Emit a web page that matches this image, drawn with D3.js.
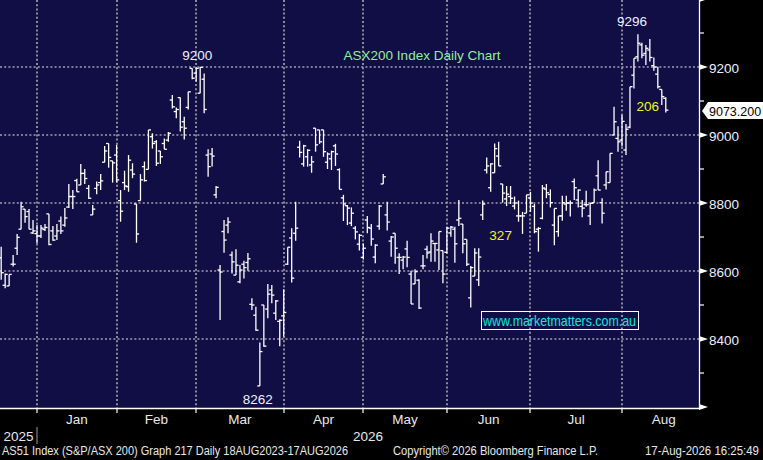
<!DOCTYPE html>
<html><head><meta charset="utf-8">
<script src="https://cdn.jsdelivr.net/npm/d3@7/dist/d3.min.js"></script>
<style>html,body{margin:0;padding:0;background:#000;overflow:hidden}svg{display:block}</style>
</head><body><svg id="c" width="763" height="460"></svg>
<script>
// ---- data (ASX200 daily OHLC, mid-Dec 2025 .. 17-Aug-2026) ----
const opens = [
8639,8558,8556,8620,8667,8723,8782,8775,8712,
8710,8703,8722,8768,8718,8703,8747,8735,8788,8819,8866,8853,8887,8843,8765,8843,8860,8920,8975,8924,
8941,8807,8860,8848,8897,8797,8807,8907,8899,8995,8980,8953,8975,8985,9103,9069,9110,9039,9081,9196,
9182,9123,9164,8941,8944,8824,8603,8716,8735,8647,8588,8568,8620,8625,8502,8470,8262,8500,8488,8544,8476,8452,
8468,8620,8697,8711,8964,8915,8936,8912,9020,9015,9015,8920,8930,8968,8898,8815,8792,8741,8726,8679,
8640,8750,8726,8641,8732,8856,8765,8688,8711,8640,8632,8665,8591,8562,8573,8615,8664,8656,8681,8662,8660,
8655,8712,8723,8750,8738,8693,8521,8585,8574,8765,8897,8845,8889,8938,8856,8812,8819,8791,8762,8762,8770,
8815,8790,8723,8755,8841,8825,8735,8716,8762,8797,8800,8863,8809,8790,8795,8762,8801,8880,8801,8853,8860,9000,8990,
8985,8956,9023,9176,9230,9265,9240,9250,9204,9179,9134,9108];
const highs = [
8671,8593,8590,8647,8709,8804,8782,8782,8750,
8735,8735,8738,8768,8732,8738,8760,8785,8856,8838,8871,8915,8900,8853,8794,8863,8885,8968,8975,8924,
8971,8838,8895,8941,8917,8797,8885,8922,9015,9005,8985,8953,8990,9009,9118,9081,9110,9054,9127,9196,
9199,9200,9181,8958,8962,8850,8618,8750,8758,8657,8664,8618,8630,8653,8520,8495,8390,8500,8562,8559,8515,8458,
8546,8670,8726,8804,8983,8971,8958,8938,9020,9015,9015,8949,8954,8974,8902,8824,8794,8787,8732,8709,
8681,8762,8738,8679,8794,8885,8804,8703,8711,8652,8644,8689,8601,8605,8576,8647,8674,8711,8681,8716,8660,
8730,8732,8730,8809,8738,8693,8615,8667,8667,8807,8934,8917,8975,8980,8856,8850,8850,8819,8807,8774,8824,
8833,8797,8729,8853,8856,8840,8784,8762,8821,8821,8807,8872,8840,8809,8836,8801,8843,8926,8814,8892,8946,9083,9026,
9059,9032,9142,9226,9296,9271,9265,9282,9228,9201,9134,9111];
const lows = [
8574,8549,8556,8613,8647,8723,8742,8723,8709,
8681,8697,8718,8676,8689,8691,8709,8730,8785,8782,8833,8853,8856,8812,8765,8826,8838,8920,8904,8860,
8860,8745,8838,8833,8873,8683,8807,8863,8899,8960,8909,8915,8958,8980,9078,9049,9010,8987,9075,9164,
9157,9123,9064,8877,8907,8814,8456,8654,8711,8593,8588,8564,8578,8601,8485,8424,8262,8377,8461,8505,8456,8379,
8407,8618,8566,8689,8934,8907,8907,8889,8951,8974,8936,8900,8897,8909,8840,8747,8735,8732,8693,8660,
8634,8711,8674,8623,8721,8856,8719,8642,8621,8591,8605,8611,8503,8562,8488,8605,8637,8627,8627,8603,8564,
8652,8701,8624,8732,8652,8615,8493,8585,8556,8750,8887,8833,8889,8909,8801,8791,8797,8781,8745,8709,8770,
8774,8711,8657,8752,8814,8787,8676,8701,8748,8777,8760,8809,8787,8758,8789,8735,8801,8838,8740,8840,8860,9000,8951,
8966,8941,9020,9137,9216,9226,9206,9216,9189,9137,9088,9066];
const closes = [
8595,8590,8590,8620,8699,8789,8760,8723,8718,
8703,8726,8728,8678,8691,8718,8718,8756,8819,8819,8833,8887,8872,8814,8782,8853,8865,8953,8934,8918,
8868,8776,8850,8926,8885,8709,8868,8866,9015,8975,8917,8936,8958,9005,9083,9075,9023,9020,9127,9167,
9196,9199,9075,8907,8938,8846,8597,8691,8744,8627,8617,8603,8610,8636,8500,8426,8363,8379,8532,8529,8512,8455,
8478,8670,8579,8726,8949,8968,8955,8921,8971,8980,8951,8944,8951,8944,8840,8797,8785,8770,8715,8705,
8667,8728,8694,8676,8791,8877,8744,8700,8667,8640,8641,8640,8503,8598,8491,8615,8653,8688,8681,8716,8591,
8726,8729,8680,8755,8680,8620,8610,8653,8641,8797,8909,8915,8960,8909,8829,8826,8814,8800,8762,8762,8824,
8800,8716,8725,8844,8830,8801,8784,8762,8801,8800,8800,8845,8838,8785,8795,8799,8838,8838,8770,8892,8946,9039,8980,
9040,9017,9142,9226,9270,9235,9255,9228,9200,9142,9113,9073.2];

const monthLabels = ["Jan","Feb","Mar","Apr","May","Jun","Jul","Aug"];
const monthStartIdx = [9,29,49,71,91,112,133,156,177];
const yearLabels = ["2025","2026"];
const priceTicks = [8200,8400,8600,8800,9000,9200,9400];
const priceLabels = [8400,8600,8800,9000,9200];
const minorTicks = [8300,8500,8700,8900,9100,9300];

// ---- layout ----
const W = 763, H = 460, plotR = 699, plotB = 408;
const svg = d3.select("#c");
const x = d3.scaleLinear().domain([9,156]).range([37,622]);
const y = d3.scaleLinear().domain([8400,9200]).range([339,67]);
const FONT = "'Liberation Sans', Arial, sans-serif";

svg.append("rect").attr("width",W).attr("height",H).attr("fill","#000");
svg.append("rect").attr("x",0).attr("y",0).attr("width",plotR).attr("height",plotB).attr("fill","#100e45");

// grid
const grid = svg.append("g").attr("stroke","#a0a0a8").attr("stroke-width",1.7).attr("stroke-dasharray","2,2.2");
grid.selectAll("line.h").data(priceLabels).join("line")
  .attr("x1",0).attr("x2",plotR).attr("y1",d=>Math.round(y(d))).attr("y2",d=>Math.round(y(d)));
grid.selectAll("line.v").data(monthStartIdx.slice(0,8)).join("line")
  .attr("x1",d=>Math.round(x(d))).attr("x2",d=>Math.round(x(d))).attr("y1",0).attr("y2",plotB);

// OHLC bars
const idx = d3.range(closes.length);
const bars = svg.append("g").attr("stroke","#ffffff").attr("stroke-width",1.3).attr("fill","none");
bars.selectAll("line.hl").data(idx).join("line")
  .attr("x1",i=>x(i)).attr("x2",i=>x(i)).attr("y1",i=>y(highs[i])).attr("y2",i=>y(lows[i]));
bars.selectAll("line.o").data(idx).join("line")
  .attr("x1",i=>x(i)-2.6).attr("x2",i=>x(i)).attr("y1",i=>y(opens[i])).attr("y2",i=>y(opens[i]));
bars.selectAll("line.c").data(idx).join("line")
  .attr("x1",i=>x(i)).attr("x2",i=>x(i)+2.6).attr("y1",i=>y(closes[i])).attr("y2",i=>y(closes[i]));

// right axis
svg.append("line").attr("x1",plotR+0.5).attr("x2",plotR+0.5).attr("y1",0).attr("y2",plotB+1)
  .attr("stroke","#fff").attr("stroke-width",1.3);
svg.selectAll("path.tri").data(priceTicks).join("path")
  .attr("d",d=>{const yy=y(d);return `M${plotR},${yy-3} L${plotR+9},${yy} L${plotR},${yy+3} Z`;})
  .attr("fill","#fff");
svg.selectAll("line.minor").data(minorTicks).join("line")
  .attr("x1",plotR).attr("x2",plotR+5).attr("y1",d=>y(d)).attr("y2",d=>y(d))
  .attr("stroke","#fff").attr("stroke-width",1.2);
svg.selectAll("text.pl").data(priceLabels).join("text")
  .attr("x",plotR+10).attr("y",d=>y(d)+5.5).text(d=>d)
  .attr("fill","#eef0ff").attr("font-family",FONT).attr("font-size",13.5);

// last price tag
const last = closes[closes.length-1], ly = y(last);
svg.append("path")
  .attr("d",`M${plotR+3},${ly+1} L${plotR+9},${ly-8} L${W},${ly-8} L${W},${ly+9} L${plotR+9},${ly+9} Z`)
  .attr("fill","#fff");
svg.append("text").attr("x",plotR+10).attr("y",ly+5.5).text(last.toFixed(3))
  .attr("fill","#000").attr("font-family",FONT).attr("font-size",12.5);

// x axis
svg.append("line").attr("x1",0).attr("x2",plotR+1).attr("y1",plotB+0.5).attr("y2",plotB+0.5)
  .attr("stroke","#fff").attr("stroke-width",1.3);
svg.selectAll("line.mt").data(monthStartIdx.slice(0,8)).join("line")
  .attr("x1",d=>Math.round(x(d))).attr("x2",d=>Math.round(x(d))).attr("y1",plotB).attr("y2",plotB+5)
  .attr("stroke","#fff").attr("stroke-width",1.2);
svg.selectAll("text.ml").data(monthLabels).join("text")
  .attr("x",(d,k)=>(x(monthStartIdx[k])+x(monthStartIdx[k+1]))/2).attr("y",424)
  .attr("text-anchor","middle").text(d=>d)
  .attr("fill","#e8e8e8").attr("font-family",FONT).attr("font-size",13.5);
// year labels
const yearCenters = [(0+x(monthStartIdx[0]))/2, (x(monthStartIdx[0])+plotR)/2];
svg.selectAll("text.yl").data(yearLabels).join("text")
  .attr("x",(d,k)=>yearCenters[k]).attr("y",441).attr("text-anchor","middle").text(d=>d)
  .attr("fill","#e8e8e8").attr("font-family",FONT).attr("font-size",13.5);
svg.append("line").attr("x1",Math.round(x(monthStartIdx[0]))).attr("x2",Math.round(x(monthStartIdx[0])))
  .attr("y1",427).attr("y2",444).attr("stroke","#9a9a9a").attr("stroke-width",1);

// annotations
function lab(t,xx,yy,col,size){svg.append("text").attr("x",xx).attr("y",yy).attr("text-anchor","middle")
  .text(t).attr("fill",col).attr("font-family",FONT).attr("font-size",size||13.5);}
const iMax = d3.maxIndex(highs), iMin = d3.minIndex(lows);
const iFebHi = d3.maxIndex(highs.slice(0,60));
lab(String(highs[iFebHi]), x(iFebHi)-3, y(highs[iFebHi])-7, "#eef0ff");
lab(String(highs[iMax]), x(iMax)-6, y(highs[iMax])-8, "#eef0ff");
lab(String(lows[iMin]), x(iMin)-2, y(lows[iMin])+18, "#eef0ff");
lab("327", x(125)+2, y(8690), "#f4f41a");
lab("206", x(163)-2, y(9070), "#f4f41a");
lab("ASX200 Index Daily Chart", 422, 60, "#94ec9c", 13.5);

// website box
svg.append("rect").attr("x",481.5).attr("y",311.5).attr("width",157).attr("height",18)
  .attr("fill","none").attr("stroke","#fff").attr("stroke-width",1);
svg.append("text").attr("x",483).attr("y",326).text("www.marketmatters.com.au")
  .attr("textLength",153).attr("lengthAdjust","spacingAndGlyphs")
  .attr("fill","#19e3e3").attr("font-family",FONT).attr("font-size",15);

// footer
const foot = svg.append("g").attr("fill","#e8e8e8").attr("font-family",FONT).attr("font-size",12);
foot.append("text").attr("x",2).attr("y",455).text("AS51 Index (S&P/ASX 200) Graph 217 Daily 18AUG2023-17AUG2026")
  .attr("textLength",346).attr("lengthAdjust","spacingAndGlyphs");
foot.append("text").attr("x",393).attr("y",455).text("Copyright\u00A9 2026 Bloomberg Finance L.P.")
  .attr("textLength",205).attr("lengthAdjust","spacingAndGlyphs");
foot.append("text").attr("x",645).attr("y",455).text("17-Aug-2026 16:25:49")
  .attr("textLength",114).attr("lengthAdjust","spacingAndGlyphs");
</script></body></html>
